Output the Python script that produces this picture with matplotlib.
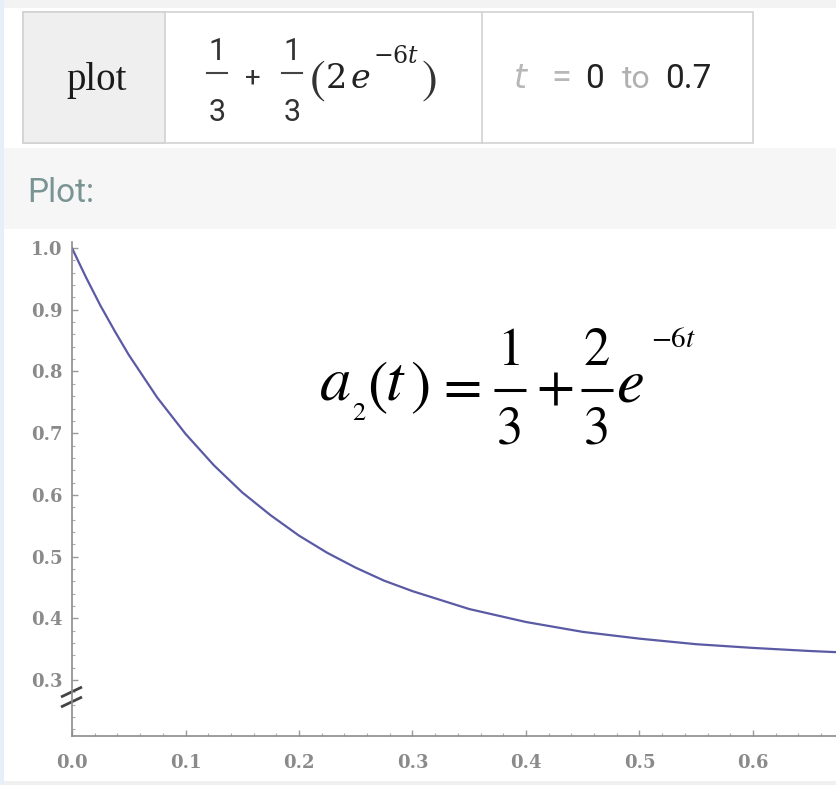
import numpy as np
import matplotlib.pyplot as plt
from matplotlib.patches import Rectangle
from matplotlib.ticker import MultipleLocator

# a2(t) 曲线读数
t_vals = [0.0, 0.0125, 0.025, 0.0375, 0.05, 0.075, 0.1, 0.125, 0.15, 0.175,
          0.2, 0.225, 0.25, 0.275, 0.3, 0.35, 0.4, 0.45, 0.5, 0.55, 0.6, 0.65, 0.7]
a2_vals = [1.0, 0.952, 0.907, 0.866, 0.827, 0.758, 0.699, 0.648, 0.604, 0.567,
           0.534, 0.506, 0.482, 0.461, 0.444, 0.415, 0.394, 0.378, 0.367, 0.358,
           0.352, 0.347, 0.343]
x_ticks = [0.0, 0.1, 0.2, 0.3, 0.4, 0.5, 0.6]
y_ticks = [0.3, 0.4, 0.5, 0.6, 0.7, 0.8, 0.9, 1.0]

W, H = 837, 785
fig = plt.figure(figsize=(W / 100, H / 100), dpi=100)
fig.patch.set_facecolor('white')

# 背景层：像素坐标
bg = fig.add_axes([0, 0, 1, 1])
bg.set_xlim(0, W)
bg.set_ylim(H, 0)
bg.axis('off')

bg.add_patch(Rectangle((0, 0), W, 8, color='#f3f3f3', lw=0))
bg.add_patch(Rectangle((0, 148), W, 81, color='#f6f6f6', lw=0))
bg.add_patch(Rectangle((0, 781), W, 4, color='#f0f0f0', lw=0))
bg.add_patch(Rectangle((0, 0), 4, H, color='#e6eef8', lw=0))

# 输入表格
line_c = '#d2d2d2'
bg.add_patch(Rectangle((23, 12), 730, 131, facecolor='white', edgecolor=line_c, lw=1.2))
bg.add_patch(Rectangle((23, 12), 142, 131, facecolor='#efefef', edgecolor=line_c, lw=1.2))
bg.plot([482, 482], [12, 143], color=line_c, lw=1.2)

bg.text(97, 90, 'plot', fontsize=28, family='Liberation Serif',
        ha='center', va='baseline', color='#1a1a1a')

for fx in [217, 292]:
    bg.text(fx, 60, '1', fontsize=22, family='Roboto', ha='center', va='baseline', color='#333333')
    bg.plot([fx - 10, fx + 10], [73, 73], color='#444444', lw=1.5)
    bg.text(fx, 121, '3', fontsize=22, family='Roboto', ha='center', va='baseline', color='#333333')
bg.text(253, 78, '+', fontsize=20, family='Roboto', ha='center', va='center', color='#333333')

bg.text(310, 93, '(', fontsize=34, family='STIXGeneral', ha='left', va='baseline', color='#333333')
bg.text(326, 88, '2', fontsize=24, family='DejaVu Serif', ha='left', va='baseline', color='#222222')
bg.text(351, 88, 'e', fontsize=24, family='DejaVu Serif', style='italic',
        ha='left', va='baseline', color='#222222')
bg.text(373, 63, r'$-6t$', fontsize=17, ha='left', va='baseline', color='#222222',
        math_fontfamily='dejavuserif')
bg.text(422, 93, ')', fontsize=34, family='STIXGeneral', ha='left', va='baseline', color='#333333')

bg.text(521, 88, '$t$', fontsize=24, ha='center', va='baseline', color='#b8b8b8',
        math_fontfamily='dejavusans')
bg.text(561, 88, '=', fontsize=26, family='Roboto', ha='center', va='baseline', color='#b8b8b8')
bg.text(595, 88, '0', fontsize=24, family='Roboto', ha='center', va='baseline', color='#222222')
bg.text(636, 88, 'to', fontsize=23, family='Roboto', ha='center', va='baseline', color='#b0b0b0')
bg.text(688, 88, '0.7', fontsize=24, family='Roboto', ha='center', va='baseline', color='#222222')

bg.text(27, 202, 'Plot:', fontsize=24, family='Roboto', ha='left', va='baseline', color='#7a9494')

# 曲线坐标轴
ax_left, ax_right, ax_top, ax_bottom = 72, W, 242, 736
ax = fig.add_axes([ax_left / W, (H - ax_bottom) / H,
                   (ax_right - ax_left) / W, (ax_bottom - ax_top) / H])
ax.patch.set_alpha(0)
px_x = 1135.0   # 每单位 t 的像素
px_y = 617.0    # 每单位 a2 的像素
ax.set_xlim(0, (ax_right - ax_left) / px_x)
y_bot = 0.3 - (ax_bottom - 680) / px_y
ax.set_ylim(y_bot, y_bot + (ax_bottom - ax_top) / px_y)

ax.plot(t_vals, a2_vals, color='#5a5aa5', lw=1.6)

for side in ['top', 'right']:
    ax.spines[side].set_visible(False)
for side in ['left', 'bottom']:
    ax.spines[side].set_color('#8c8c8c')
    ax.spines[side].set_linewidth(1.2)

ax.set_xticks(x_ticks)
ax.set_xticklabels([f'{v:.1f}' for v in x_ticks])
ax.set_yticks(y_ticks)
ax.set_yticklabels([f'{v:.1f}' for v in y_ticks])
ax.xaxis.set_minor_locator(MultipleLocator(0.02))
ax.yaxis.set_minor_locator(MultipleLocator(0.02))
ax.tick_params(which='major', direction='in', length=4.5, width=1, color='#9a9a9a')
ax.tick_params(which='minor', direction='in', length=2.5, width=0.8, color='#aaaaaa')
ax.tick_params(axis='x', which='major', pad=13)
ax.tick_params(axis='y', which='major', pad=7)
for lab in ax.get_xticklabels() + ax.get_yticklabels():
    lab.set_family('DejaVu Serif')
    lab.set_fontweight('bold')
    lab.set_fontsize(13)
    lab.set_color('#8a8a8a')

# 纵轴断开符号
for yc in [692, 702]:
    bg.plot([61, 82], [yc + 5, yc - 5], color='#444444', lw=2, solid_capstyle='butt')

# 公式 a2(t) = 1/3 + 2/3 e^{-6t}
eq = dict(family='STIXGeneral', color='black')
bg.text(320, 400, 'a', fontsize=45, style='italic', ha='left', va='baseline', **eq)
bg.text(352, 420, '2', fontsize=19, ha='left', va='baseline', **eq)
bg.text(367, 402, '(', fontsize=44, ha='left', va='baseline', **eq)
bg.text(386, 400, 't', fontsize=45, style='italic', ha='left', va='baseline', **eq)
bg.text(410, 402, ')', fontsize=44, ha='left', va='baseline', **eq)
bg.text(462, 404, '=', fontsize=40, ha='center', va='baseline', **eq)
for fx, num in [(510, '1'), (597, '2')]:
    bg.text(fx, 365, num, fontsize=38, ha='center', va='baseline', **eq)
    bg.plot([fx - 16, fx + 16], [390, 390], color='black', lw=2.2, solid_capstyle='butt')
    bg.text(fx, 443, '3', fontsize=38, ha='center', va='baseline', **eq)
bg.text(555, 404, '+', fontsize=40, ha='center', va='baseline', **eq)
bg.text(616, 401, 'e', fontsize=45, style='italic', ha='left', va='baseline', **eq)
bg.text(651, 347, r'$-6t$', fontsize=21, ha='left', va='baseline',
        color='black', math_fontfamily='stix')

fig.savefig('out.png', dpi=100)
